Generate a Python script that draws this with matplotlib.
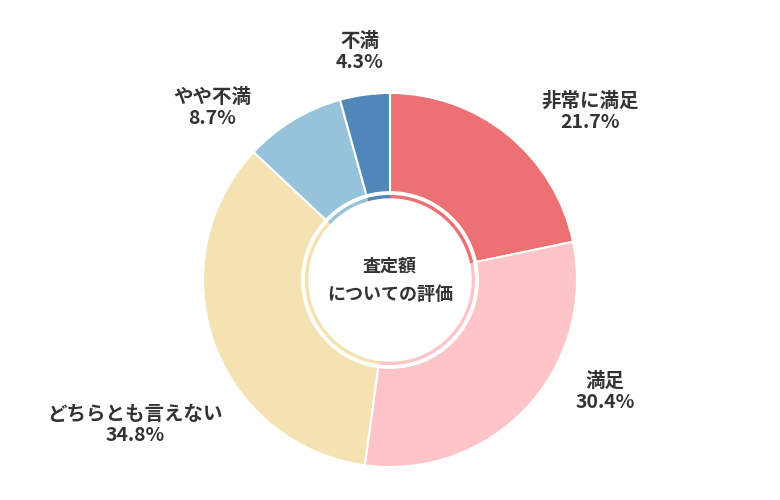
import matplotlib
matplotlib.use("Agg")
import matplotlib.pyplot as plt

plt.rcParams['font.family'] = ['Noto Sans CJK JP', 'DejaVu Sans']

labels = ["非常に満足", "満足", "どちらとも言えない", "やや不満", "不満"]
values = [21.7, 30.4, 34.8, 8.7, 4.3]
colors = ["#EC7173", "#FDC5C8", "#F4E2B2", "#96C3DA", "#4E87B8"]
# label centers in pixels (x, y from top)
label_px = [(590, 112), (605, 392), (135, 425), (212, 108), (360, 52)]

cx, cy, R = 390, 280, 187
fig = plt.figure(figsize=(7.8, 5), dpi=100)
ax = fig.add_axes([0, 0, 1, 1])

ax.pie(values, colors=colors, startangle=90, counterclock=False, radius=1.0,
       wedgeprops=dict(width=0.53, edgecolor="white", linewidth=1.5))
ax.pie(values, colors=colors, startangle=90, counterclock=False, radius=0.455,
       wedgeprops=dict(width=0.018, edgecolor="none"))

ax.set_xlim(-cx / R, (780 - cx) / R)
ax.set_ylim(-(500 - cy) / R, cy / R)
ax.set_aspect("equal")
ax.axis("off")

for lab, v, (px, py) in zip(labels, values, label_px):
    ax.text((px - cx) / R, (cy - py) / R, f"{lab}\n{v}%", ha="center", va="center",
            fontsize=14, fontweight="bold", color="#333333", linespacing=1.15)

ax.text(0, 0, "査定額\nについての評価", ha="center", va="center",
        fontsize=13, fontweight="bold", color="#333333", linespacing=1.6)

fig.savefig("out.png", dpi=100)
